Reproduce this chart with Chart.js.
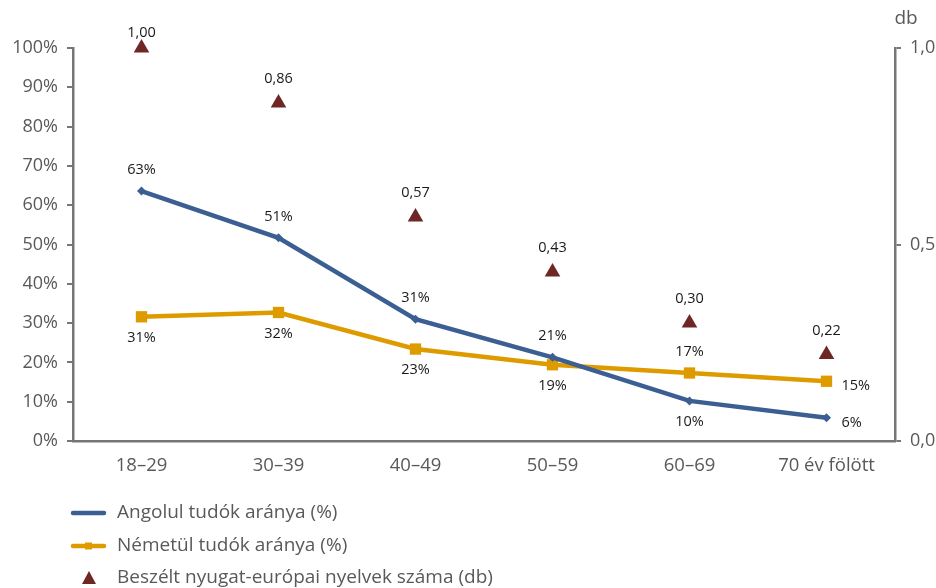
<!DOCTYPE html>
<html>
<head>
<meta charset="utf-8">
<script src="https://cdn.jsdelivr.net/npm/chart.js@4/dist/chart.umd.min.js"></script>
<style>
  html, body { margin: 0; padding: 0; background: #fff; }
  #wrap { width: 936px; height: 588px; position: relative; }
</style>
</head>
<body>
<div id="wrap"><canvas id="lineChart" width="936" height="588"></canvas></div>
<script>
// data
var categories = ["18–29", "30–39", "40–49", "50–59", "60–69", "70 év fölött"];
var englishShare = [63.6, 51.7, 31.0, 21.3, 10.2, 5.9];
var englishLabels = ["63%", "51%", "31%", "21%", "10%", "6%"];
var germanShare = [31.6, 32.7, 23.4, 19.4, 17.3, 15.2];
var germanLabels = ["31%", "32%", "23%", "19%", "17%", "15%"];
var languageCount = [1.00, 0.86, 0.57, 0.43, 0.30, 0.22];
var leftTicks = [0, 10, 20, 30, 40, 50, 60, 70, 80, 90, 100];
var rightTicks = [0, 0.5, 1];

var seriesNames = [
  "Angolul tudók aránya (%)",
  "Németül tudók aránya (%)",
  "Beszélt nyugat-európai nyelvek száma (db)"
];

var FONT = "'Open Sans', 'Noto Sans', sans-serif";
var axisGrey = "#767676";
var textGrey = "#595959";

// where each value label sits relative to its point
var labelPlacement = [
  ["top", "top", "top", "top", "bottom", "right"],
  ["bottom", "bottom", "bottom", "bottom", "top", "right"],
  ["top", "top", "top", "top", "top", "top"]
];

var valueLabels = {
  id: 'valueLabels',
  afterDatasetsDraw: function(chart) {
    var ctx = chart.ctx;
    var texts = [englishLabels, germanLabels, languageCount.map(function(v) {
      return v.toFixed(2).replace('.', ',');
    })];
    ctx.save();
    ctx.font = "14.5px " + FONT;
    ctx.fillStyle = "#1a1a1a";
    chart.data.datasets.forEach(function(ds, i) {
      chart.getDatasetMeta(i).data.forEach(function(pt, j) {
        var pos = labelPlacement[i][j];
        var x = pt.x, y = pt.y;
        ctx.textBaseline = "middle";
        if (pos === "right") {
          ctx.textAlign = "left";
          x += 15; y += 5;
        } else {
          ctx.textAlign = "center";
          if (i === 2) y = Math.max(y - 24, 33);
          else y += (pos === "top") ? -21 : 21;
        }
        ctx.fillText(texts[i][j], x, y);
      });
    });
    ctx.restore();
  }
};

var bottomLegend = {
  id: 'bottomLegend',
  afterDraw: function(chart) {
    var ctx = chart.ctx;
    var rows = [513, 546, 578];
    ctx.save();
    ctx.font = "19px " + FONT;
    ctx.textBaseline = "middle";
    ctx.textAlign = "left";
    chart.data.datasets.forEach(function(ds, i) {
      var y = rows[i];
      if (i < 2) {
        ctx.strokeStyle = ds.borderColor;
        ctx.lineWidth = 4.5;
        ctx.lineCap = "round";
        ctx.beginPath();
        ctx.moveTo(73, y);
        ctx.lineTo(104, y);
        ctx.stroke();
        ctx.fillStyle = ds.borderColor;
        if (i === 1) ctx.fillRect(85, y - 3.5, 7, 7);
      } else {
        ctx.fillStyle = ds.backgroundColor;
        ctx.beginPath();
        ctx.moveTo(89, y - 7);
        ctx.lineTo(96, y + 6);
        ctx.lineTo(82, y + 6);
        ctx.closePath();
        ctx.fill();
      }
      ctx.fillStyle = textGrey;
      ctx.fillText(seriesNames[i], 117, y);
    });
    // unit caption above the right axis
    ctx.textAlign = "center";
    ctx.fillText("db", 906, 19);
    ctx.restore();
  }
};

var ctx = document.getElementById('lineChart');
var myChart = new Chart(ctx, {
  type: 'line',
  data: {
    labels: categories,
    datasets: [
      {
        label: seriesNames[0],
        data: englishShare,
        yAxisID: 'yLeft',
        borderColor: "#3B5E93",
        backgroundColor: "#3B5E93",
        borderWidth: 4.5,
        pointStyle: 'rectRot',
        pointRadius: 4.5,
        pointBorderWidth: 0,
        tension: 0
      },
      {
        label: seriesNames[1],
        data: germanShare,
        yAxisID: 'yLeft',
        borderColor: "#DE9B00",
        backgroundColor: "#DE9B00",
        borderWidth: 4.5,
        pointStyle: 'rect',
        pointRadius: 8,
        pointBorderWidth: 0,
        tension: 0
      },
      {
        label: seriesNames[2],
        data: languageCount,
        yAxisID: 'yRight',
        showLine: false,
        clip: false,
        borderColor: "#6E2724",
        backgroundColor: "#6E2724",
        pointStyle: 'triangle',
        pointRadius: 9,
        pointBorderWidth: 0
      }
    ]
  },
  options: {
    responsive: false,
    animation: false,
    layout: { padding: { top: 48, bottom: 107, left: 0, right: 0 } },
    plugins: {
      legend: { display: false },
      tooltip: { enabled: false }
    },
    scales: {
      x: {
        offset: true,
        grid: { display: false },
        border: { display: true, color: axisGrey, width: 2.5 },
        ticks: { color: textGrey, font: { family: FONT, size: 18.5 }, padding: 6 },
        afterFit: function(scale) { scale.height = 40; }
      },
      yLeft: {
        position: 'left',
        min: 0,
        max: 100,
        afterBuildTicks: function(scale) {
          scale.ticks = leftTicks.map(function(v) { return { value: v }; });
        },
        ticks: {
          color: textGrey,
          font: { family: FONT, size: 18 },
          padding: 9,
          callback: function(v) { return v + '%'; }
        },
        grid: { drawOnChartArea: false, drawTicks: true, tickLength: 6, color: axisGrey, lineWidth: 2 },
        border: { display: true, color: axisGrey, width: 2.5 },
        afterFit: function(scale) { scale.width = 73; }
      },
      yRight: {
        position: 'right',
        min: 0,
        max: 1,
        afterBuildTicks: function(scale) {
          scale.ticks = rightTicks.map(function(v) { return { value: v }; });
        },
        ticks: {
          color: textGrey,
          font: { family: FONT, size: 18 },
          padding: 9,
          callback: function(v) { return v.toFixed(1).replace('.', ','); }
        },
        grid: { drawOnChartArea: false, drawTicks: true, tickLength: 6, color: axisGrey, lineWidth: 2 },
        border: { display: true, color: axisGrey, width: 2.5 },
        afterFit: function(scale) { scale.width = 41; }
      }
    }
  },
  plugins: [valueLabels, bottomLegend]
});
</script>
</body>
</html>
